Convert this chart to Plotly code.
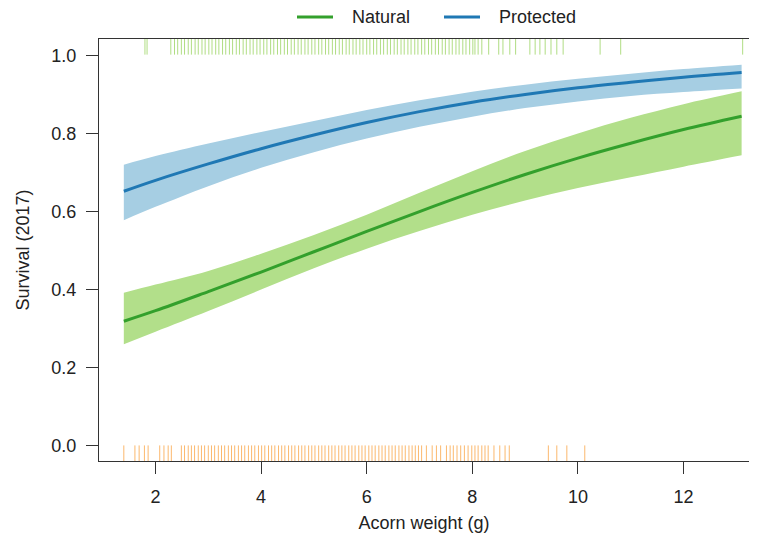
import plotly.graph_objects as go

# fitted survival curves (x = acorn weight in g)
weight = [1.4, 2, 3, 4, 5, 6, 7, 8, 9, 10, 11, 12, 13.1]

natural_fit = [0.319, 0.346, 0.395, 0.445, 0.497, 0.549, 0.600, 0.649, 0.695, 0.737, 0.775, 0.810, 0.844]
natural_lo = [0.260, 0.292, 0.345, 0.400, 0.455, 0.505, 0.550, 0.592, 0.628, 0.660, 0.688, 0.715, 0.744]
natural_hi = [0.392, 0.413, 0.448, 0.492, 0.540, 0.592, 0.648, 0.703, 0.755, 0.800, 0.840, 0.875, 0.908]

protected_fit = [0.652, 0.680, 0.722, 0.761, 0.796, 0.828, 0.856, 0.880, 0.900, 0.917, 0.931, 0.944, 0.956]
protected_lo = [0.578, 0.612, 0.665, 0.712, 0.752, 0.787, 0.817, 0.843, 0.865, 0.882, 0.896, 0.906, 0.915]
protected_hi = [0.720, 0.742, 0.774, 0.804, 0.832, 0.860, 0.885, 0.907, 0.925, 0.940, 0.953, 0.965, 0.976]

# rug: acorn weights of seedlings that survived (top) and died (bottom)
survived_w = [1.80, 1.84, 2.29, 2.36, 2.42, 2.49, 2.55, 2.62, 2.68, 2.75, 2.81, 2.88, 2.94, 3.01,
              3.07, 3.14, 3.20, 3.27, 3.33, 3.40, 3.46, 3.53, 3.59, 3.66, 3.72, 3.79, 3.85, 3.92,
              3.98, 4.05, 4.11, 4.18, 4.24, 4.31, 4.37, 4.44, 4.50, 4.57, 4.63, 4.70, 4.76, 4.83,
              4.89, 4.96, 5.02, 5.09, 5.15, 5.22, 5.28, 5.35, 5.41, 5.48, 5.54, 5.61, 5.67, 5.74,
              5.80, 5.87, 5.93, 6.00, 6.06, 6.13, 6.19, 6.26, 6.32, 6.39, 6.45, 6.52, 6.58, 6.65,
              6.71, 6.78, 6.84, 6.91, 6.97, 7.04, 7.10, 7.17, 7.23, 7.30, 7.36, 7.43, 7.49, 7.56,
              7.62, 7.69, 7.75, 7.82, 7.88, 7.95, 8.01, 8.05, 8.11, 8.18, 8.31, 8.50, 8.58, 8.71,
              8.82, 9.09, 9.19, 9.28, 9.38, 9.49, 9.60, 9.72, 10.42, 10.81, 13.12]
died_w = [1.40, 1.61, 1.69, 1.79, 1.86, 2.08, 2.16, 2.24, 2.30, 2.49, 2.55, 2.62, 2.68, 2.74,
          2.81, 2.87, 2.93, 3.00, 3.06, 3.12, 3.19, 3.25, 3.31, 3.38, 3.44, 3.50, 3.57, 3.63,
          3.69, 3.76, 3.82, 3.88, 3.95, 4.01, 4.07, 4.14, 4.20, 4.26, 4.33, 4.39, 4.45, 4.52,
          4.58, 4.64, 4.71, 4.77, 4.83, 4.90, 4.96, 5.02, 5.09, 5.15, 5.21, 5.28, 5.34, 5.40,
          5.47, 5.53, 5.59, 5.66, 5.72, 5.78, 5.85, 5.91, 5.97, 6.04, 6.10, 6.16, 6.23, 6.29,
          6.35, 6.42, 6.48, 6.54, 6.61, 6.67, 6.73, 6.80, 6.86, 6.92, 6.98, 7.04, 7.13, 7.24,
          7.32, 7.40, 7.51, 7.58, 7.64, 7.71, 7.78, 7.85, 7.92, 7.99, 8.05, 8.11, 8.18, 8.24,
          8.30, 8.41, 8.52, 8.62, 8.70, 9.44, 9.60, 9.79, 10.13]

GREEN, GREEN_FILL = "#33a02c", "#b2df8a"
BLUE, BLUE_FILL = "#1f78b4", "#a6cee3"
FONT = "Liberation Sans, Arial, sans-serif"
FS = 18

# page has an 8px body margin, so the figure is 16px smaller than the window
W, H = 741, 525
ML, MT, MB = 91, 31, 72
plot_w = W - ML
plot_h = H - MT - MB


def px_x(fx):
    return (fx - ML) / plot_w


def px_y(fy):
    return 1 + (MT - fy) / plot_h


fig = go.Figure()


def add_band(lo, hi, fill):
    fig.add_trace(go.Scatter(x=weight, y=lo, mode="lines", line=dict(width=0, shape="spline"),
                             showlegend=False, hoverinfo="skip"))
    fig.add_trace(go.Scatter(x=weight, y=hi, mode="lines", line=dict(width=0, shape="spline"),
                             fill="tonexty", fillcolor=fill, showlegend=False, hoverinfo="skip"))


add_band(natural_lo, natural_hi, GREEN_FILL)
add_band(protected_lo, protected_hi, BLUE_FILL)

fig.add_trace(go.Scatter(x=weight, y=natural_fit, mode="lines", name="Natural",
                         line=dict(color=GREEN, width=3, shape="spline"), showlegend=False))
fig.add_trace(go.Scatter(x=weight, y=protected_fit, mode="lines", name="Protected",
                         line=dict(color=BLUE, width=3, shape="spline"), showlegend=False))

# rugs
fig.add_trace(go.Scatter(x=survived_w, y=[1.0253] * len(survived_w), mode="markers",
                         marker=dict(symbol="line-ns", size=13,
                                     line=dict(width=1, color="rgba(150,210,90,0.75)")),
                         showlegend=False, hoverinfo="skip"))
fig.add_trace(go.Scatter(x=died_w, y=[-0.0224] * len(died_w), mode="markers",
                         marker=dict(symbol="line-ns", size=13,
                                     line=dict(width=1, color="rgba(250,160,60,0.75)")),
                         showlegend=False, hoverinfo="skip"))

# legend drawn by hand above the plot box (R-style, no frame)
legend_items = [("Natural", GREEN, 289, 342), ("Protected", BLUE, 436, 489)]
for label, color, line_x, text_x in legend_items:
    fig.add_shape(type="line", xref="paper", yref="paper",
                  x0=px_x(line_x), x1=px_x(line_x + 36), y0=px_y(9), y1=px_y(9),
                  line=dict(color=color, width=3))
    fig.add_annotation(text=label, xref="paper", yref="paper", x=px_x(text_x), y=px_y(9),
                       xanchor="left", yanchor="middle", showarrow=False,
                       font=dict(family=FONT, size=FS, color="#222"))

axis_common = dict(
    showline=True, linecolor="#333", linewidth=1.4,
    ticks="outside", ticklen=12, tickcolor="#333", tickwidth=1.4,
    showgrid=False, zeroline=False, automargin=False,
    tickfont=dict(family=FONT, size=FS, color="#222"),
)

fig.update_layout(
    width=W, height=H,
    margin=dict(l=ML, r=0, t=MT, b=MB),
    paper_bgcolor="white", plot_bgcolor="white",
    font=dict(family=FONT, size=FS, color="#222"),
    showlegend=False,
    xaxis=dict(range=[0.93, 13.24], tickvals=[2, 4, 6, 8, 10, 12], mirror=True,
               ticklabelstandoff=7,
               title=dict(text="Acorn weight (g)", standoff=21,
                          font=dict(family=FONT, size=FS, color="#222")),
               **axis_common),
    yaxis=dict(range=[-0.039, 1.042], tickvals=[0, 0.2, 0.4, 0.6, 0.8, 1.0],
               tickformat=".1f", ticklabelstandoff=6,
               title=dict(text="Survival (2017)", standoff=16,
                          font=dict(family=FONT, size=FS, color="#222")),
               **axis_common),
)

fig.write_html("out.html")
